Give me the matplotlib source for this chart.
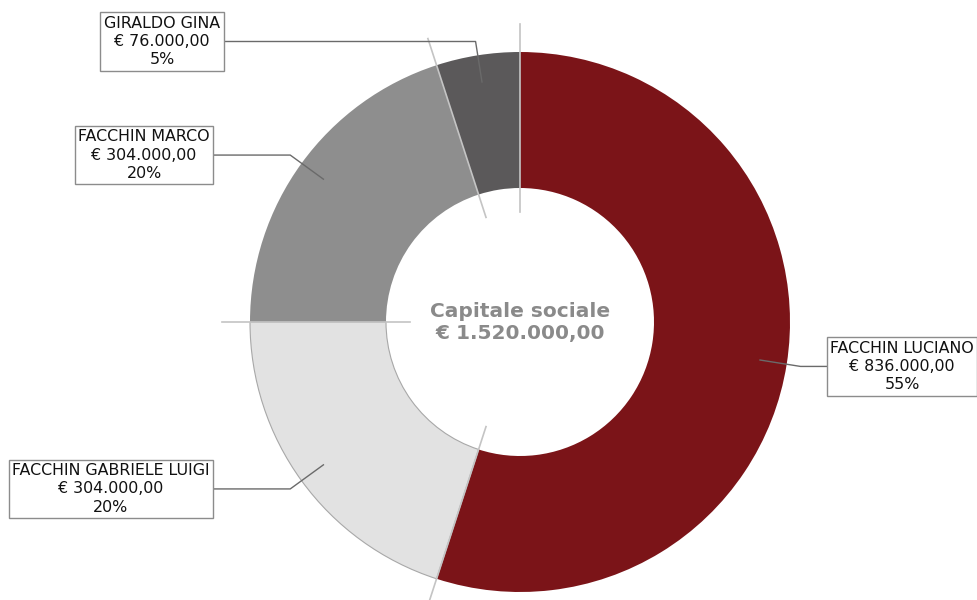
import numpy as np
import matplotlib.pyplot as plt

# dati soci
soci = ['FACCHIN LUCIANO', 'FACCHIN GABRIELE LUIGI', 'FACCHIN MARCO', 'GIRALDO GINA']
importi = [836000, 304000, 304000, 76000]
importi_txt = ['€ 836.000,00', '€ 304.000,00', '€ 304.000,00', '€ 76.000,00']
percentuali = ['55%', '20%', '20%', '5%']
colori = ['#7b1418', '#e2e2e2', '#8e8e8e', '#5b595a']
totale_txt = '€ 1.520.000,00'

# posizione x dei riquadri etichetta (in pixel)
box_x = [902, 111, 144, 162]

W, H = 978, 600
cx, cy = 520, H - 322
R = 270

fig = plt.figure(figsize=(9.78, 6.0), dpi=100)
ax = fig.add_axes([0, 0, 1, 1])

wedges, _ = ax.pie(importi, colors=colori, startangle=90, counterclock=False,
                   radius=R, center=(cx, cy),
                   wedgeprops=dict(width=136, linewidth=0))
wedges[1].set_edgecolor('#a8a8a8')
wedges[1].set_linewidth(0.8)

ax.set_xlim(0, W)
ax.set_ylim(0, H)
ax.set_aspect('equal')
ax.axis('off')

# linee di separazione tra gli spicchi
tot = sum(importi)
cum = np.cumsum([0] + importi) / tot
for f in cum[:-1]:
    a = np.deg2rad(90 - 360 * f)
    ax.plot([cx + 110 * np.cos(a), cx + 298 * np.cos(a)],
            [cy + 110 * np.sin(a), cy + 298 * np.sin(a)],
            color='#c4c4c4', lw=1.2, zorder=3)

# etichette con linee guida
for i in range(len(soci)):
    mid = (cum[i] + cum[i + 1]) / 2
    a = np.deg2rad(90 - 360 * mid)
    ex, ey = cx + 243 * np.cos(a), cy + 243 * np.sin(a)
    kx, ky = cx + 284 * np.cos(a), cy + 284 * np.sin(a)
    ax.plot([ex, kx, box_x[i]], [ey, ky, ky], color='#6a6a6a', lw=1, zorder=4)
    ax.text(box_x[i], ky, soci[i] + '\n' + importi_txt[i] + '\n' + percentuali[i],
            ha='center', va='center', fontsize=11.4, color='#111111', linespacing=1.27,
            zorder=5,
            bbox=dict(boxstyle='square,pad=0.22', facecolor='white', edgecolor='#8c8c8c', lw=1))

# testo centrale
ax.text(cx, cy, 'Capitale sociale\n' + totale_txt, ha='center', va='center',
        fontsize=14.5, fontweight='bold', color='#8a8a8a', linespacing=1.2, zorder=5)

plt.savefig('out.png', dpi=100)
